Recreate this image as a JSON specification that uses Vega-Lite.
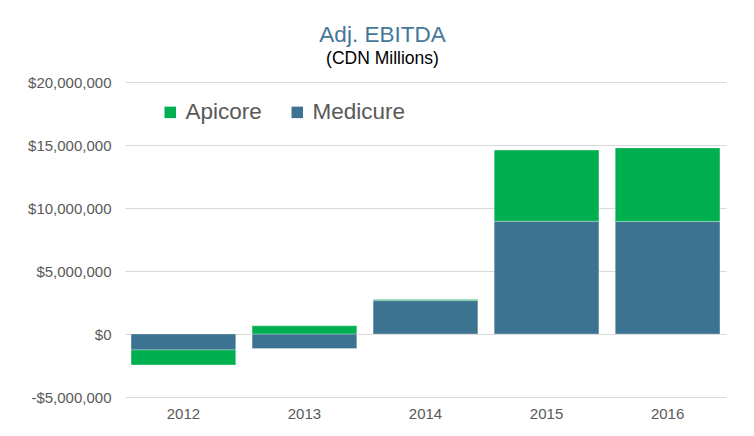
{
  "$schema": "https://vega.github.io/schema/vega-lite/v6.json",
  "width": 601,
  "height": 315,
  "autosize": {"type": "none"},
  "padding": {"left": 125, "top": 82, "right": 28, "bottom": 39},
  "background": "white",
  "view": {"stroke": null},
  "title": {
    "text": "Adj. EBITDA",
    "subtitle": "(CDN Millions)",
    "anchor": "middle",
    "dx": -43,
    "offset": 8,
    "font": "Liberation Sans",
    "fontSize": 22.5,
    "fontWeight": "normal",
    "color": "#44779a",
    "subtitleFont": "Liberation Sans",
    "subtitleFontSize": 17.5,
    "subtitleColor": "#000000",
    "subtitlePadding": 3
  },
  "data": {
    "values": [
      {"year": "2012", "company": "Medicure", "value": -1260000},
      {"year": "2012", "company": "Apicore", "value": -1200000},
      {"year": "2013", "company": "Medicure", "value": -1150000},
      {"year": "2013", "company": "Apicore", "value": 650000},
      {"year": "2014", "company": "Medicure", "value": 2650000},
      {"year": "2014", "company": "Apicore", "value": 80000},
      {"year": "2015", "company": "Medicure", "value": 8950000},
      {"year": "2015", "company": "Apicore", "value": 5650000},
      {"year": "2016", "company": "Medicure", "value": 8930000},
      {"year": "2016", "company": "Apicore", "value": 5840000}
    ]
  },
  "transform": [
    {"calculate": "datum.company === 'Medicure' ? 0 : 1", "as": "ord"}
  ],
  "mark": {"type": "bar", "stroke": "#ffffff", "strokeWidth": 0.6, "strokeOpacity": 0.5},
  "encoding": {
    "x": {
      "field": "year",
      "type": "nominal",
      "scale": {"paddingInner": 0.135, "paddingOuter": 0.05},
      "axis": {
        "title": null,
        "labelAngle": 0,
        "ticks": false,
        "domain": false,
        "labelFont": "Liberation Sans",
        "labelFontSize": 15,
        "labelColor": "#595959",
        "labelPadding": 9
      }
    },
    "y": {
      "field": "value",
      "type": "quantitative",
      "stack": "zero",
      "scale": {"domain": [-5000000, 20000000], "nice": false},
      "axis": {
        "title": null,
        "values": [-5000000, 0, 5000000, 10000000, 15000000, 20000000],
        "labelExpr": "replace(format(datum.value, '$,.0f'), '\u2212', '-')",
        "ticks": false,
        "domain": false,
        "gridColor": "#d9d9d9",
        "gridWidth": 1,
        "labelFont": "Liberation Sans",
        "labelFontSize": 15,
        "labelColor": "#595959",
        "labelPadding": 14
      }
    },
    "color": {
      "field": "company",
      "type": "nominal",
      "scale": {"domain": ["Apicore", "Medicure"], "range": ["#00b050", "#3b7390"]},
      "legend": {
        "title": null,
        "orient": "none",
        "legendX": 34,
        "legendY": 19,
        "padding": 0,
        "direction": "horizontal",
        "symbolType": "square",
        "symbolSize": 132,
        "symbolStrokeWidth": 0,
        "labelFont": "Liberation Sans",
        "labelFontSize": 22.5,
        "labelColor": "#595959",
        "columnPadding": 24,
        "labelOffset": 4
      }
    },
    "order": {"field": "ord", "type": "quantitative"}
  }
}
